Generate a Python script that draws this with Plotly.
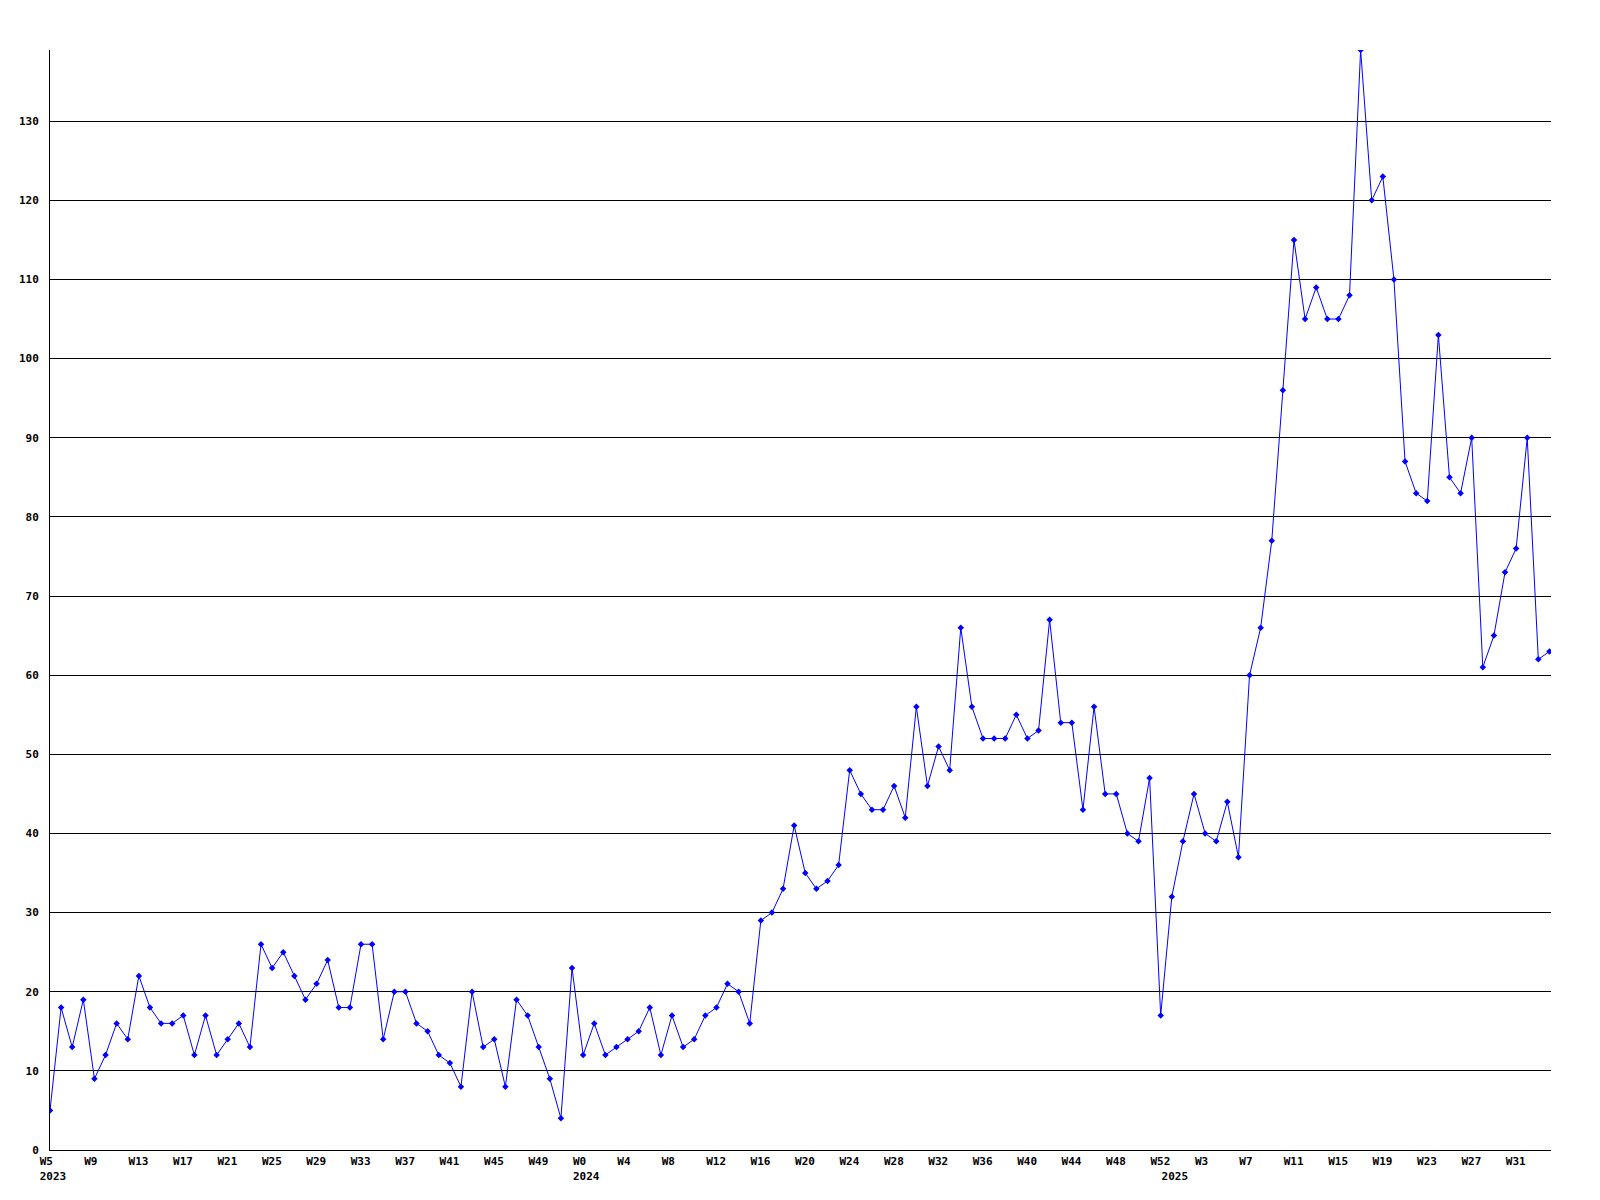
import plotly.graph_objects as go

# Weekly values, 2023 W5 .. 2025 W34
values = [
    5, 18, 13, 19, 9, 12, 16, 14, 22, 18, 16, 16, 17, 12, 17, 12, 14, 16, 13, 26,
    23, 25, 22, 19, 21, 24, 18, 18, 26, 26, 14, 20,
    20, 16, 15, 12, 11, 8, 20, 13, 14, 8, 19, 17, 13, 9, 4, 23, 12, 16,
    12, 13, 14, 15, 18, 12, 17, 13, 14, 17, 18, 21, 20, 16, 29, 30,
    33, 41, 35, 33, 34, 36, 48, 45, 43, 43, 46, 42, 56, 46, 51, 48, 66, 56,
    52, 52, 52, 55, 52, 53, 67, 54, 54, 43, 56, 45, 45, 40,
    39, 47, 17, 32, 39, 45, 40, 39, 44, 37, 60, 66, 77, 96, 115, 105, 109, 105,
    105, 108, 139, 120, 123, 110, 87, 83, 82, 103, 85, 83, 90, 61, 65, 73, 76, 90,
    62, 63,
]

# X tick labels every 4 weeks
week_labels = [
    "W5", "W9", "W13", "W17", "W21", "W25", "W29", "W33", "W37", "W41", "W45", "W49",
    "W0", "W4", "W8", "W12", "W16", "W20", "W24", "W28", "W32", "W36", "W40", "W44",
    "W48", "W52", "W3", "W7", "W11", "W15", "W19", "W23", "W27", "W31",
]
tick_step = 4

# Year labels and the point index where each year starts
year_labels = ["2023", "2024", "2025"]
year_starts = [0, 48, 101]

y_ticks = [0, 10, 20, 30, 40, 50, 60, 70, 80, 90, 100, 110, 120, 130]

NB = "\u00a0"
x = list(range(len(values)))

tick_map = {}
for i, lab in enumerate(week_labels):
    tick_map[i * tick_step] = lab.ljust(4, NB)
for yl, ys in zip(year_labels, year_starts):
    first = tick_map.get(ys, NB * 4)
    tick_map[ys] = first + "<br>" + yl
tickvals = sorted(tick_map)
ticktext = [tick_map[v] for v in tickvals]

font = dict(family="DejaVu Sans Mono", size=11, color="black", weight="bold")

fig = go.Figure()
fig.add_trace(go.Scatter(
    x=x, y=values, mode="lines+markers",
    line=dict(color="#0000FF", width=1),
    marker=dict(symbol="diamond", size=5, color="#0000FF"),
    hoverinfo="x+y",
))

fig.update_layout(
    width=1584, height=1184, autosize=False,
    margin=dict(l=42, r=41, t=42, b=42),
    paper_bgcolor="white", plot_bgcolor="white",
    showlegend=False,
    xaxis=dict(
        range=[0, 135.14], tickvals=tickvals, ticktext=ticktext,
        showgrid=False, zeroline=False, showline=True, linecolor="black", linewidth=1,
        ticks="", tickfont=font, tickangle=0, ticklabelshift=3, ticklabelstandoff=1,
        automargin=False,
    ),
    yaxis=dict(
        range=[0, 139], tickvals=y_ticks,
        showgrid=True, gridcolor="black", gridwidth=1,
        zeroline=False, showline=True, linecolor="black", linewidth=1,
        ticks="", tickfont=font, ticklabelstandoff=8, automargin=False,
    ),
)

fig.write_html("out.html")
